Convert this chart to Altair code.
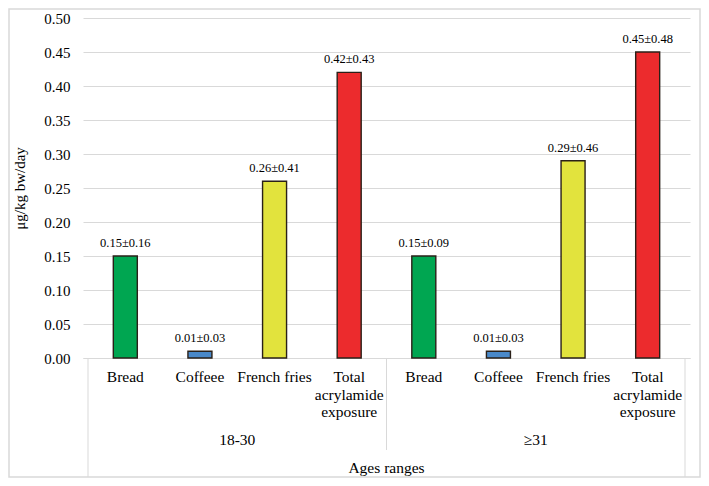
import altair as alt
import pandas as pd

groups = ["18-30", "≥31"]
categories = ["Bread", "Coffeee", "French fries", "Total acrylamide exposure"]
category_labels = ["Bread", "Coffeee", "French fries", "Total\nacrylamide\nexposure"]
means_18_30 = [0.15, 0.01, 0.26, 0.42]
means_31 = [0.15, 0.01, 0.29, 0.45]
text_18_30 = ["0.15±0.16", "0.01±0.03", "0.26±0.41", "0.42±0.43"]
text_31 = ["0.15±0.09", "0.01±0.03", "0.29±0.46", "0.45±0.48"]
colors = ["#00A651", "#4A89C9", "#E2E33D", "#EC2B2D"]
y_ticks = [0.0, 0.05, 0.10, 0.15, 0.20, 0.25, 0.30, 0.35, 0.40, 0.45, 0.50]
axis_group_title = "Ages ranges"
y_title = "μg/kg bw/day"

FONT = "Liberation Serif"
W, H = 607, 340

rows = []
for gi, (g, vals, txts) in enumerate([(groups[0], means_18_30, text_18_30), (groups[1], means_31, text_31)]):
    for ci, cat in enumerate(categories):
        rows.append({
            "group": g,
            "category": cat,
            "catlabel": category_labels[ci],
            "pos": gi * len(categories) + ci + 0.5,
            "value": vals[ci],
            "label": txts[ci],
        })
df = pd.DataFrame(rows)

n = len(categories)
group_df = pd.DataFrame({"group": groups, "pos": [n * 0.5, n * 1.5]})
outer_sep = pd.DataFrame({"pos": [0, 2 * n]})
mid_sep = pd.DataFrame({"pos": [n]})
title_df = pd.DataFrame({"t": [axis_group_title], "pos": [n]})

xscale = alt.Scale(domain=[0, 2 * n], nice=False, zero=False)
yscale = alt.Scale(domain=[0, 0.5], nice=False)

xaxis = alt.Axis(title=None, labels=False, ticks=False, grid=False,
                 domain=True, domainColor="#D9D9D9", domainWidth=1)
yaxis = alt.Axis(title=y_title, values=y_ticks, format=".2f", grid=True,
                 gridColor="#D9D9D9", gridWidth=1, domain=False, ticks=False,
                 labelOverlap=False, labelPadding=13, labelFont=FONT,
                 labelFontSize=15, labelFontWeight="normal",
                 labelColor="#000000", titleFont=FONT, titleFontSize=15,
                 titleFontWeight="normal", titleColor="#000000",
                 titlePadding=16)

X = alt.X("pos:Q", scale=xscale, axis=xaxis)
Y = alt.Y("value:Q", scale=yscale, axis=yaxis)

base = alt.Chart(df)

bars = base.mark_bar(size=24, stroke="#2a2018", strokeWidth=1.4).encode(
    x=X, y=Y,
    color=alt.Color("category:N", scale=alt.Scale(domain=categories, range=colors), legend=None),
)

bar_text = base.mark_text(font=FONT, fontSize=12.5, baseline="middle", dy=-13, color="#000000").encode(
    x=X, y=Y, text="label:N",
)

cat_text = base.mark_text(font=FONT, fontSize=15.5, baseline="middle", lineBreak="\n",
                          lineHeight=17.5, color="#000000").encode(
    x=X, y=alt.value(H + 19), text="catlabel:N",
)

group_text = alt.Chart(group_df).mark_text(font=FONT, fontSize=15.5, baseline="middle", color="#000000").encode(
    x=X, y=alt.value(H + 82), text="group:N",
)

title_text = alt.Chart(title_df).mark_text(font=FONT, fontSize=15.5, baseline="middle", color="#000000").encode(
    x=X, y=alt.value(H + 110), text="t:N",
)

outer_rules = alt.Chart(outer_sep).mark_rule(color="#D9D9D9", strokeWidth=1).encode(
    x=X, y=alt.value(H), y2=alt.value(H + 119),
)

mid_rules = alt.Chart(mid_sep).mark_rule(color="#D9D9D9", strokeWidth=1).encode(
    x=X, y=alt.value(H), y2=alt.value(H + 92),
)

frame = alt.Chart(pd.DataFrame({"a": [1]})).mark_rect(
    fillOpacity=0, stroke="#D9D9D9", strokeWidth=1.5
).encode(
    x=alt.value(-74), x2=alt.value(W + 10),
    y=alt.value(-9), y2=alt.value(H + 119),
)

chart = alt.layer(
    bars, frame, outer_rules, mid_rules, bar_text, cat_text, group_text, title_text
).properties(
    width=W, height=H,
    autosize=alt.AutoSizeParams(type="none"),
    padding={"left": 75, "top": 10, "right": 11, "bottom": 120},
).configure(background="#FFFFFF", font=FONT).configure_view(strokeWidth=0)

chart.save("out.html", embed_options={"renderer": "svg", "actions": False})
